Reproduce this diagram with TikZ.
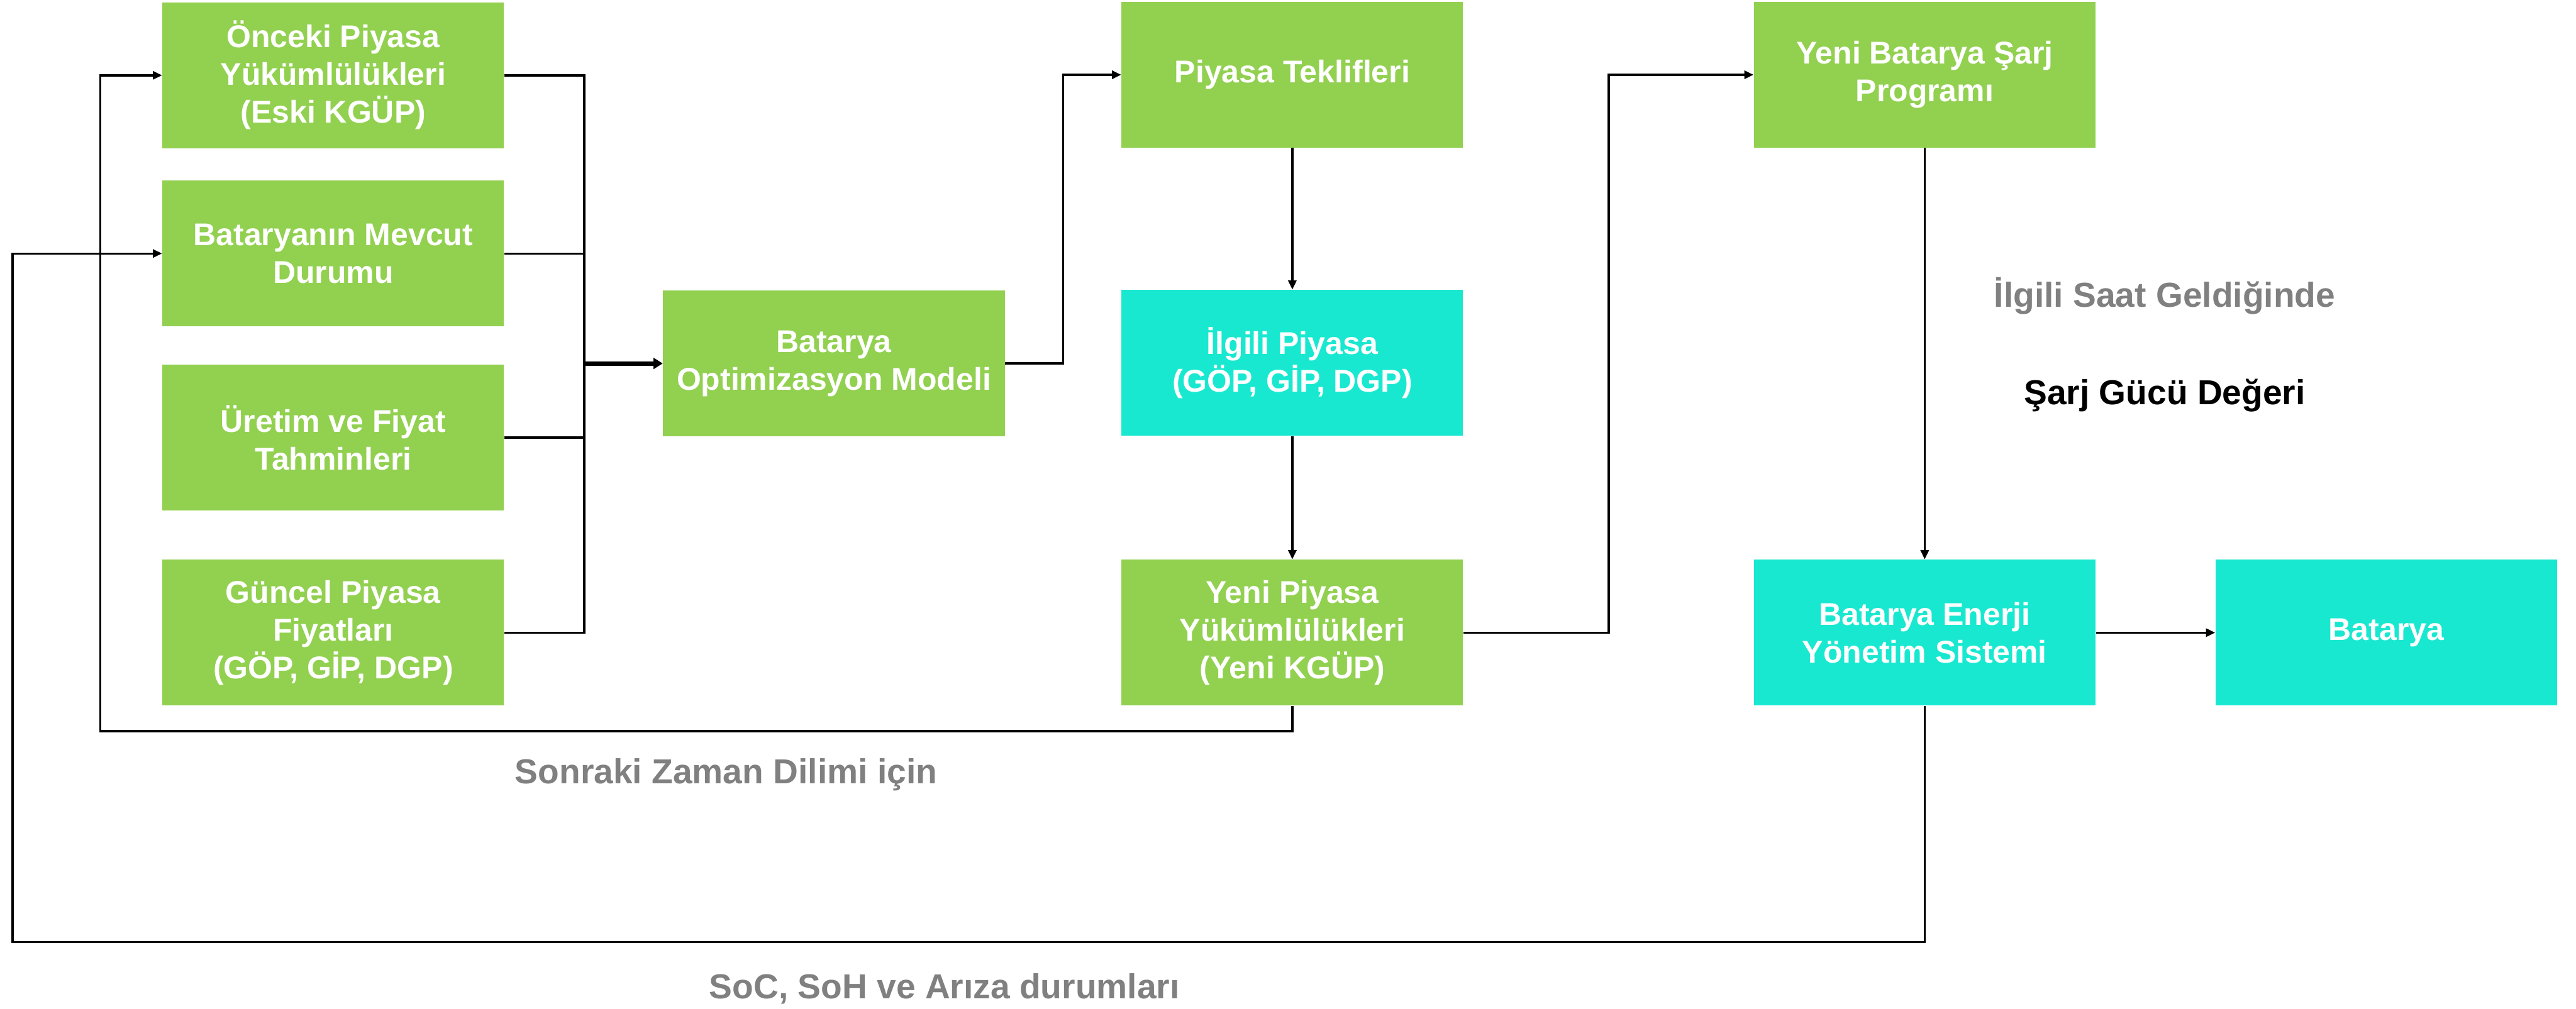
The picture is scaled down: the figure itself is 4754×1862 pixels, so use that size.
\documentclass[tikz,border=0pt]{standalone}
\usepackage{fontspec}
\setmainfont{Liberation Sans}
\usetikzlibrary{arrows.meta}
\definecolor{boxgreen}{HTML}{92D050}
\definecolor{boxcyan}{HTML}{19E8D0}
\definecolor{labgray}{HTML}{808080}
\tikzset{
  gbox/.style={fill=boxgreen, draw=none, minimum width=6.3cm, minimum height=2.69cm, inner sep=0pt,
    align=center, text=white, font=\fontsize{16.5}{19.8}\selectfont\bfseries},
  cbox/.style={gbox, fill=boxcyan},
  conn/.style={draw=black, line width=0.04cm, line join=miter},
  arr/.style={conn, -{Triangle[length=0.17cm,width=0.15cm]}},
  thickarr/.style={draw=black, line width=0.08cm, -{Triangle[length=0.17cm,width=0.2cm]}},
  lab/.style={font=\fontsize{18.2}{21.8}\selectfont\bfseries, inner sep=0pt},
}
\begin{document}
\begin{tikzpicture}[x=0.01cm,y=-0.01cm]
\path[use as bounding box] (0,0) rectangle (4754,1862);
% left column
\node[gbox] (b1) at (615,139) {Önceki Piyasa\\Yükümlülükleri\\(Eski KGÜP)};
\node[gbox] (b2) at (615,468) {Bataryanın Mevcut\\Durumu};
\node[gbox] (b3) at (615,808) {Üretim ve Fiyat\\Tahminleri};
\node[gbox] (b4) at (615,1168) {Güncel Piyasa\\Fiyatları\\(GÖP, GİP, DGP)};
% middle
\node[gbox] (opt) at (1539,671) {Batarya\\Optimizasyon Modeli};
\node[gbox] (pt) at (2385,138) {Piyasa Teklifleri};
\node[cbox] (ilg) at (2385,670) {İlgili Piyasa\\(GÖP, GİP, DGP)};
\node[gbox] (yp) at (2385,1168) {Yeni Piyasa\\Yükümlülükleri\\(Yeni KGÜP)};
% right
\node[gbox] (ybs) at (3552,138) {Yeni Batarya Şarj\\Programı};
\node[cbox] (beys) at (3552,1168) {Batarya Enerji\\Yönetim Sistemi};
\node[cbox] (bat) at (4404,1168) {Batarya};
% labels
\node[lab, text=labgray] (l1) at (3995,546) {İlgili Saat Geldiğinde};
\node[lab, text=black] (l2) at (3995,730) {Şarj Gücü Değeri};
\node[lab, text=labgray] (l3) at (1340,1430) {Sonraki Zaman Dilimi için};
\node[lab, text=labgray] (l4) at (1743,1825) {SoC, SoH ve Arıza durumları};
% coordinates
\coordinate (busT) at (1078,139);
\coordinate (busB) at (1078,1168);
\coordinate (bus2) at (1078,468);
\coordinate (bus3) at (1078,808);
\coordinate (busO) at (1078,671);
\coordinate (r1) at (1962,671);
\coordinate (r2) at (2969,1168);
\coordinate (fbA) at (185,1350);
\coordinate (fbB) at (23,1739);
% connectors
\draw[conn] (b1.east) -- (busT) -- (busB) -- (b4.east);
\draw[conn] (b2.east) -- (bus2);
\draw[conn] (b3.east) -- (bus3);
\draw[thickarr] (busO) -- (opt.west);
\draw[arr] (opt.east) -- (r1) |- (pt.west);
\draw[arr] (pt.south) -- (ilg.north);
\draw[arr] (ilg.south) -- (yp.north);
\draw[arr] (yp.east) -- (r2) |- (ybs.west);
\draw[arr] (yp.south) |- (fbA) |- (b1.west);
\draw[arr] (ybs.south) -- (beys.north);
\draw[arr] (beys.east) -- (bat.west);
\draw[arr] (beys.south) |- (fbB) |- (b2.west);
\end{tikzpicture}
\end{document}
